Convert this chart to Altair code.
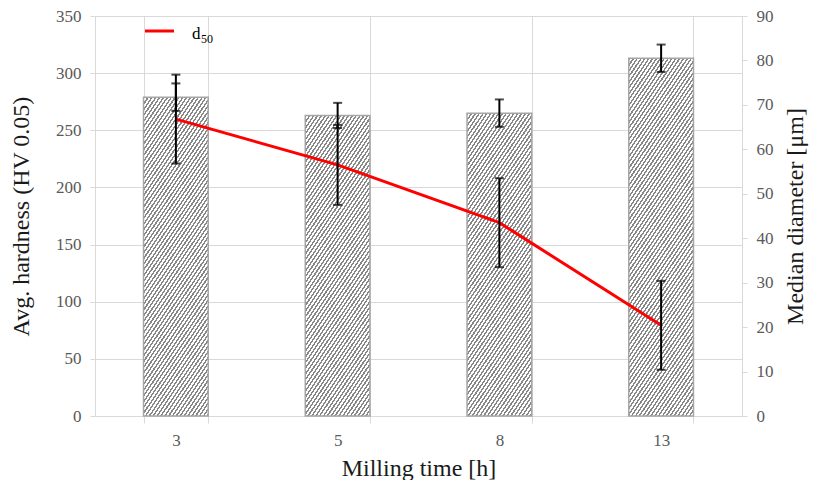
import math
import altair as alt
import pandas as pd

# ---- data ----
times = ["3", "5", "8", "13"]
hardness = [279, 263, 265, 313]
hardness_err = [12, 11, 12, 12]
d50 = [66.8, 56.5, 43.5, 20.4]
d50_err = [10, 9, 10, 10]

# ---- layout ----
PW, PH = 647, 400
Y1MAX, Y2MAX = 350, 90
P_INNER, P_OUTER = 0.6, 0.3
SERIF = "Liberation Serif"
LABEL_C = "#595959"
GRID_C = "#d9d9d9"

df = pd.DataFrame({
    "time": times,
    "hardness": hardness,
    "h_lo": [h - e for h, e in zip(hardness, hardness_err)],
    "h_hi": [h + e for h, e in zip(hardness, hardness_err)],
    "d50": d50,
    "d_lo": [d - e for d, e in zip(d50, d50_err)],
    "d_hi": [d + e for d, e in zip(d50, d50_err)],
})


def hatch(w, h, theta_deg=56, period=3.2, frac=0.45, c1="#878787", c2="#ffffff"):
    """Linear gradient with many hard stops that looks like '/' hatching."""
    th = math.radians(theta_deg)
    s, c = math.sin(th), math.cos(th)
    L = w * s + h * c
    Q = (w * s) ** 2 + (h * c) ** 2
    du = w * s * L / Q
    dv = h * c * L / Q
    n = L / period
    stops = []
    k = 0
    while k / n < 1:
        a = k / n
        b = min((k + frac) / n, 1)
        e = min((k + 1) / n, 1)
        stops += [
            {"offset": round(a, 5), "color": c1},
            {"offset": round(b, 5), "color": c1},
            {"offset": round(b, 5), "color": c2},
            {"offset": round(e, 5), "color": c2},
        ]
        k += 1
    return {"gradient": "linear", "x1": 0, "y1": 0, "x2": du, "y2": dv, "stops": stops}


step = PW / (len(times) - P_INNER + 2 * P_OUTER)
bandw = step * (1 - P_INNER)

x_enc = alt.X(
    "time:N",
    scale=alt.Scale(domain=times, paddingInner=P_INNER, paddingOuter=P_OUTER),
    axis=alt.Axis(
        title="Milling time [h]", tickBand="extent", grid=True, gridColor=GRID_C,
        labelAngle=0, tickSize=7, labelPadding=9, titlePadding=8,
        domainColor=GRID_C, tickColor=GRID_C,
    ),
)

y1_axis = alt.Axis(
    title="Avg. hardness (HV 0.05)", values=list(range(0, 351, 50)), grid=True,
    gridColor=GRID_C, tickSize=5, labelPadding=9, titlePadding=22,
    domainColor=GRID_C, tickColor=GRID_C,
)
y1_scale = alt.Scale(domain=[0, Y1MAX], nice=False)

y2_axis = alt.Axis(
    title="Median diameter [μm]", orient="right", values=list(range(0, 91, 10)),
    grid=False, tickSize=5, labelPadding=9, titlePadding=10, titleAngle=270,
    titleBaseline="top", domainColor=GRID_C, tickColor=GRID_C,
)
y2_scale = alt.Scale(domain=[0, Y2MAX], nice=False)

base = alt.Chart(df)

bar_layers = []
for t, hv in zip(times, hardness):
    hpx = hv / Y1MAX * PH
    bar_layers.append(
        base.transform_filter(alt.datum.time == t)
        .mark_bar(fill=hatch(bandw, hpx), stroke="#a6a6a6", strokeWidth=1.5)
        .encode(x=x_enc, y=alt.Y("hardness:Q", scale=y1_scale, axis=y1_axis))
    )

h_rule = base.mark_rule(color="black", strokeWidth=2).encode(
    x=x_enc, y=alt.Y("h_lo:Q", scale=y1_scale, axis=y1_axis), y2="h_hi:Q")
h_tick_lo = base.mark_tick(color="black", thickness=2, size=9).encode(
    x=x_enc, y=alt.Y("h_lo:Q", scale=y1_scale, axis=y1_axis))
h_tick_hi = base.mark_tick(color="black", thickness=2, size=9).encode(
    x=x_enc, y=alt.Y("h_hi:Q", scale=y1_scale, axis=y1_axis))

left = alt.layer(*bar_layers, h_rule, h_tick_lo, h_tick_hi)

d_line = base.mark_line(color="#ff0000", strokeWidth=3).encode(
    x=x_enc, y=alt.Y("d50:Q", scale=y2_scale, axis=y2_axis))
d_rule = base.mark_rule(color="black", strokeWidth=2).encode(
    x=x_enc, y=alt.Y("d_lo:Q", scale=y2_scale, axis=y2_axis), y2="d_hi:Q")
d_tick_lo = base.mark_tick(color="black", thickness=2, size=9).encode(
    x=x_enc, y=alt.Y("d_lo:Q", scale=y2_scale, axis=y2_axis))
d_tick_hi = base.mark_tick(color="black", thickness=2, size=9).encode(
    x=x_enc, y=alt.Y("d_hi:Q", scale=y2_scale, axis=y2_axis))

# legend (drawn manually for the subscript)
leg = pd.DataFrame({"d": ["d"], "sub": ["50"]})
leg_line = alt.Chart(leg).mark_rule(color="#ff0000", strokeWidth=3).encode(
    x=alt.value(50), x2=alt.value(79), y=alt.value(15))
leg_d = alt.Chart(leg).mark_text(font=SERIF, fontSize=17, align="left", baseline="alphabetic",
                                 color="black").encode(
    x=alt.value(97), y=alt.value(23), text="d:N")
leg_sub = alt.Chart(leg).mark_text(font=SERIF, fontSize=12, align="left", baseline="alphabetic",
                                   color="black").encode(
    x=alt.value(106), y=alt.value(27), text="sub:N")

right = alt.layer(d_line, d_rule, d_tick_lo, d_tick_hi, leg_line, leg_d, leg_sub)

chart = (
    alt.layer(left, right)
    .resolve_scale(y="independent")
    .properties(
        width=PW, height=PH,
        autosize=alt.AutoSizeParams(type="none"),
        padding={"left": 87, "top": 8, "right": 68, "bottom": 64},
        background="white",
    )
    .configure_view(stroke=None)
    .configure_axis(
        labelFont=SERIF, titleFont=SERIF, labelFontSize=17, titleFontSize=24,
        labelColor=LABEL_C, titleColor="#1a1a1a", titleFontWeight="normal",
    )
)

chart.save("out.html", embed_options={"renderer": "svg", "actions": False})
